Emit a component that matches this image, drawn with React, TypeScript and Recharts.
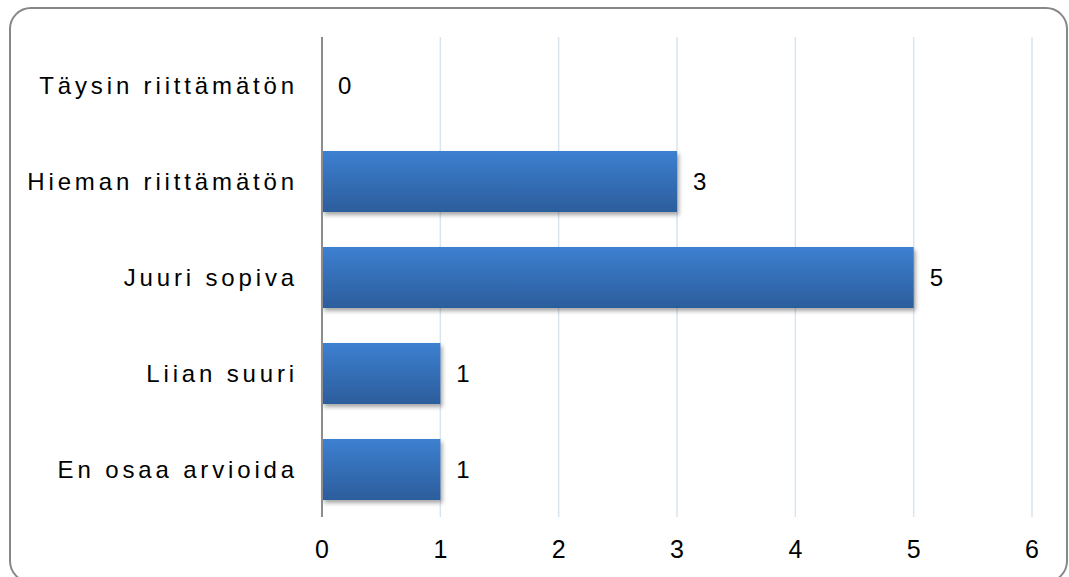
import React from "react";
import { BarChart, Bar, XAxis, YAxis, CartesianGrid, LabelList, Rectangle } from "recharts";

const categories = ["Täysin riittämätön", "Hieman riittämätön", "Juuri sopiva", "Liian suuri", "En osaa arvioida"];
const values = [0, 3, 5, 1, 1];
const xTicks = [0, 1, 2, 3, 4, 5, 6];

const data = categories.map((c, i) => ({ name: c, value: values[i] }));

const FONT = "'Liberation Sans', Arial, sans-serif";

const ValueLabel = (props: any) => {
  const { x, y, width, height, value } = props;
  return (
    <text
      x={Number(x) + Number(width || 0) + 16}
      y={Number(y) + Number(height) / 2}
      dy="0.36em"
      textAnchor="start"
      fill="#000"
      fontSize={24}
      fontFamily={FONT}
    >
      {value}
    </text>
  );
};

const BarShape = (props: any) => {
  if (!props.value) return <g />;
  return <Rectangle {...props} />;
};

export default function App() {
  return (
    <div style={{ position: "absolute", left: 0, top: 0, width: 1069, height: 577, overflow: "hidden", background: "#fff", fontFamily: FONT }}>
      <div
        style={{
          position: "absolute",
          left: 9,
          top: 7,
          width: 1059,
          height: 576,
          boxSizing: "border-box",
          border: "2px solid #878787",
          borderRadius: 22,
        }}
      />
      <div style={{ position: "absolute", left: 0, top: 0 }}>
        <BarChart
          width={1069}
          height={577}
          data={data}
          layout="vertical"
          margin={{ top: 37, right: 37, bottom: 0, left: 0 }}
        >
          <defs>
            <linearGradient id="barGrad" x1="0" y1="0" x2="0" y2="1">
              <stop offset="0%" stopColor="#3d80d1" />
              <stop offset="100%" stopColor="#2c5d9c" />
            </linearGradient>
            <filter id="barShadow" x="-5%" y="-20%" width="115%" height="160%">
              <feDropShadow dx="2" dy="3" stdDeviation="2" floodColor="#000" floodOpacity="0.35" />
            </filter>
          </defs>
          <CartesianGrid horizontal={false} vertical={true} stroke="#d9e4f1" strokeWidth={1.5} />
          <XAxis
            type="number"
            domain={[0, 6]}
            ticks={xTicks}
            interval={0}
            axisLine={false}
            tickLine={false}
            tickSize={0}
            tickMargin={23}
            height={60}
            tick={{ fill: "#000", fontSize: 25, fontFamily: FONT }}
          />
          <YAxis
            type="category"
            dataKey="name"
            width={322}
            axisLine={{ stroke: "#8c8c8c", strokeWidth: 2 }}
            tickLine={false}
            tickSize={0}
            tickMargin={24}
            interval={0}
            tick={{ fill: "#000", fontSize: 24, letterSpacing: 3.85, fontFamily: FONT }}
          />
          <Bar
            dataKey="value"
            fill="url(#barGrad)"
            barSize={61}
            minPointSize={0.01}
            shape={BarShape}
            filter="url(#barShadow)"
            isAnimationActive={false}
          >
            <LabelList dataKey="value" content={ValueLabel} />
          </Bar>
        </BarChart>
      </div>
    </div>
  );
}
